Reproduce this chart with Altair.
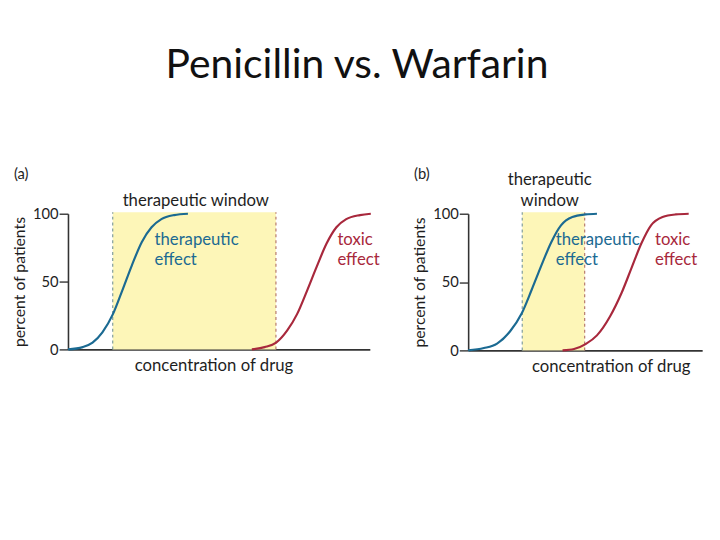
import altair as alt
import pandas as pd

FONT = "Lato"
BLUE = "#1b6a92"
RED = "#a8283c"
YELLOW = "#fdf6b8"
DASH_L = "#7f9c9c"
DASH_R = "#b77a6c"
AXIS = "#333333"
TXT = "#1e1e1e"

# ---- panel (a): penicillin ----
a_blue_x = [0, 15, 25, 35, 45.7, 55, 65, 75, 85, 95, 108, 122]
a_blue_y = [0, 1.7, 5, 12.6, 26, 43, 62, 79, 90, 96, 99, 100]
a_red_x = [187, 200, 211.7, 223, 233, 243, 253, 263, 273, 283, 297, 308]
a_red_y = [0, 1.7, 5, 14, 26, 43, 61, 78, 90, 96, 99, 100]
a_window = [45.5, 211.5]
a_xmax = 307

# ---- panel (b): warfarin ----
b_blue_x = [0, 16, 29.4, 42.7, 54.4, 64.4, 74.4, 84.4, 94.4, 106, 119.4, 131]
b_blue_y = [0, 1.7, 5, 14, 27, 44, 62, 79, 91.5, 97.6, 99.5, 100]
b_red_x = [96, 107.7, 119.4, 131, 144.4, 156, 166, 176, 186, 197.7, 211, 224.3]
b_red_y = [0, 1, 4.6, 11, 25, 42, 60, 78, 91.5, 97.6, 99.5, 100]
b_window = [55, 118.5]
b_xmax = 238

y_ticks = [0, 50, 100]


def panel(label, bx, by, rx, ry, win, xmax, w, h, win_lines, win_x, blue_x, red_x, title_x):
    xs = alt.Scale(domain=[0, xmax], nice=False, zero=False)
    ys = alt.Scale(domain=[0, 100], nice=False)

    xaxis = alt.Axis(title="concentration of drug", ticks=False, labels=False, grid=False,
                     domainColor=AXIS, domainWidth=1.6, titleFont=FONT, titleFontSize=17,
                     titleFontWeight="normal", titleColor=TXT, titlePadding=8,
                     titleX=title_x, titleAlign="center")
    yaxis = alt.Axis(title="percent of patients", values=y_ticks, grid=False,
                     domainColor=AXIS, domainWidth=1.6, tickColor=AXIS, tickWidth=1.4,
                     tickSize=9, labelPadding=1, labelFont=FONT, labelFontSize=15,
                     labelColor=TXT, titleFont=FONT, titleFontSize=16,
                     titleFontWeight="normal", titleColor=TXT, titlePadding=5)

    win_df = pd.DataFrame({"x": [win[0]], "x2": [win[1]], "y": [0], "y2": [101]})
    rect = alt.Chart(win_df).mark_rect(color=YELLOW).encode(
        x=alt.X("x:Q", scale=xs, axis=xaxis),
        x2="x2:Q",
        y=alt.Y("y:Q", scale=ys, axis=yaxis),
        y2="y2:Q",
    )

    dash_df = pd.DataFrame({"x": win, "c": [DASH_L, DASH_R], "y": [0, 0], "y2": [101, 101]})
    dashes = alt.Chart(dash_df).mark_rule(strokeDash=[3, 3], strokeWidth=1.2).encode(
        x=alt.X("x:Q", scale=xs), y=alt.Y("y:Q", scale=ys), y2="y2:Q",
        color=alt.Color("c:N", scale=None),
    )

    curve_df = pd.DataFrame({
        "x": list(bx) + list(rx),
        "y": list(by) + list(ry),
        "s": ["blue"] * len(bx) + ["red"] * len(rx),
        "c": [BLUE] * len(bx) + [RED] * len(rx),
    })
    curves = alt.Chart(curve_df).mark_line(interpolate="monotone", strokeWidth=2.2).encode(
        x=alt.X("x:Q", scale=xs), y=alt.Y("y:Q", scale=ys),
        detail="s:N", color=alt.Color("c:N", scale=None),
    )

    texts = []
    lab_rows = [
        {"x": blue_x, "y": 77, "t": "therapeutic", "c": BLUE},
        {"x": blue_x, "y": 62.5, "t": "effect", "c": BLUE},
        {"x": red_x, "y": 77, "t": "toxic", "c": RED},
        {"x": red_x, "y": 62.5, "t": "effect", "c": RED},
    ]
    lab_df = pd.DataFrame(lab_rows)
    texts.append(alt.Chart(lab_df).mark_text(font=FONT, fontSize=17, align="left",
                                              baseline="alphabetic").encode(
        x=alt.X("x:Q", scale=xs), y=alt.Y("y:Q", scale=ys), text="t:N",
        color=alt.Color("c:N", scale=None)))

    # window title lines (pixel offsets above the 100 line)
    for i, line in enumerate(win_lines):
        off = -8 - 21 * (len(win_lines) - 1 - i)
        df = pd.DataFrame({"x": [win_x], "y": [100], "t": [line]})
        texts.append(alt.Chart(df).mark_text(font=FONT, fontSize=17, align="center",
                                             baseline="alphabetic", dy=off, color=TXT).encode(
            x=alt.X("x:Q", scale=xs), y=alt.Y("y:Q", scale=ys), text="t:N"))

    lab = pd.DataFrame({"t": [label]})
    texts.append(alt.Chart(lab).mark_text(font=FONT, fontSize=15, align="left",
                                          baseline="alphabetic", color=TXT).encode(
        x=alt.value(-55), y=alt.value(-35), text="t:N"))

    return alt.layer(rect, dashes, curves, *texts).properties(width=w, height=h)


pa = panel("(a)", a_blue_x, a_blue_y, a_red_x, a_red_y, a_window, a_xmax, 307, 138,
           ["therapeutic window"], 130, 88, 274, 148)
pb = panel("(b)", b_blue_x, b_blue_y, b_red_x, b_red_y, b_window, b_xmax, 238, 139,
           ["therapeutic", "window"], 83, 89, 190, 145)

chart = alt.hconcat(pa, pb, spacing=31).properties(
    title=alt.TitleParams("Penicillin vs. Warfarin", font=FONT, fontSize=41.5,
                          fontWeight="normal", color="#111111", anchor="middle", offset=83),
    padding={"left": 3, "top": 34, "right": 10, "bottom": 10},
).configure_view(stroke=None)

chart.save("out.html", embed_options={"renderer": "svg", "actions": False})
